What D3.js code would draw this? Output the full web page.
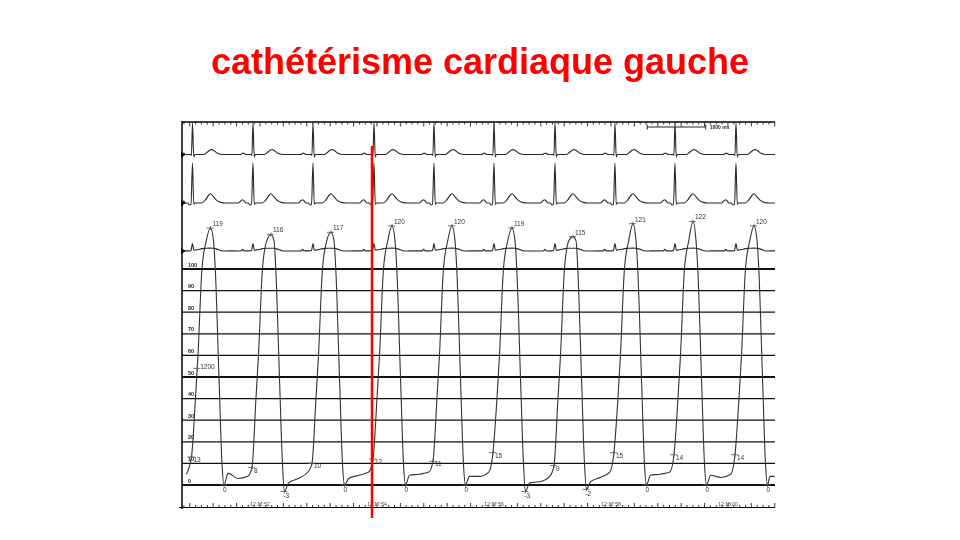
<!DOCTYPE html>
<html>
<head>
<meta charset="utf-8">
<script src="https://cdn.jsdelivr.net/npm/d3@7"></script>
<style>
  body { margin: 0; background: #fff; }
  svg { display: block; will-change: transform; }
</style>
</head>
<body>
<svg id="chart" width="960" height="540"></svg>
<script>
// ---------------- DATA ----------------
const title = "cathétérisme cardiaque gauche";

// time axis (seconds after 12:17:00)
const timeDomain = [50.667, 60.804];
const timeLabelSeconds = [52, 54, 56, 58, 60];
const timeLabels = ["12:17:52", "12:17:54", "12:17:56", "12:17:58", "12:18:00"];

// pressure scale ticks (mmHg)
const pressureTicks = [0, 10, 20, 30, 40, 50, 60, 70, 80, 90, 100];
const pressureTickLabels = ["0", "10", "20", "30", "40", "50", "60", "70", "80", "90", "100"];

// R-wave times of the 10 beats (s)
const rTimes = [50.846, 51.880, 52.906, 53.949, 54.974, 56.000, 57.043, 58.068, 59.094, 60.137];

// per-beat LV pressure values (mmHg)
const peakP = [119, 116, 117, 120, 120, 119, 115, 121, 122, 120];
const minP  = [0, -3, 0, 0, 0, -3, -2, 0, 0, 0];
const edpP  = [13, 8, 10, 12, 11, 15, 9, 15, 14, 14];

// diastolic filling between a beat's minimum and the next end-diastolic point (mmHg)
const diastoleFrac = [0.15, 0.5, 0.85];
const diastoleP = [
  [5.5, 3, 4], [1, 3, 6], [3, 4.5, 6], [4.5, 5, 6], [4, 4, 6],
  [1, 1.5, 4], [1.5, 3.5, 6], [4.5, 5, 6], [4.5, 3.5, 5]
];
const pressureStart = [50.74, 5];
const tailT = [60.72, 60.80];
const tailP = [4, 4];

// systolic shape relative to R (s) and pressures (null = beat value: EDP, peak, minimum)
const sysOffsets   = [-0.017, 0.051, 0.094, 0.162, 0.235, 0.308, 0.36, 0.39, 0.453, 0.504, 0.538];
const sysPressures = [null, 40, 60, 100, 113, null, 113, 100, 50, 10, null];
const EDP_I = 0, PEAK_I = 5, MIN_I = 10;

// dP/dt annotation
const dpdtText = "1200";
const dpdtPoint = [50.927, 54];

// ECG templates: [seconds from R, amplitude relative to R]
const lead1Template = [
  [-0.21, 0], [-0.185, 0.03], [-0.165, 0.045], [-0.145, 0.03], [-0.12, 0],
  [-0.03, 0], [-0.018, -0.03], [0, 1.0], [0.022, -0.08], [0.04, 0],
  [0.2, 0], [0.25, 0.07], [0.3, 0.14], [0.33, 0.155], [0.37, 0.12], [0.42, 0.05], [0.48, 0.01], [0.53, 0]
];
const lead2Template = [
  [-0.25, 0], [-0.21, 0.05], [-0.18, 0.08], [-0.15, 0.05], [-0.12, 0],
  [-0.08, 0], [-0.05, -0.05], [-0.025, -0.04], [0, 1.0], [0.022, -0.03], [0.04, 0],
  [0.16, 0], [0.22, 0.08], [0.28, 0.2], [0.31, 0.23], [0.35, 0.17], [0.42, 0.06], [0.5, 0.01], [0.56, 0]
];
const lead3Template = [
  [-0.2, 0], [-0.175, 0.22], [-0.15, 0],
  [-0.025, 0], [0, 1.0], [0.025, 0]
];
const lead3PressureGain = 0.0034;

// cursor and scale bar
const cursorTime = 53.915;
const scaleBarStart = 58.62;
const scaleBarLength = 1.0;
const scaleBarText = "1000 ms";

// ---------------- DRAWING ----------------
const svg = d3.select("#chart");
const FONT = "'Liberation Sans', Arial, Helvetica, sans-serif";
const x = d3.scaleLinear().domain(timeDomain).range([182, 775]);
const yP = d3.scaleLinear().domain([0, 100]).range([485, 269]);
const y1 = d3.scaleLinear().domain([0, 1]).range([154.5, 123]);
const y2 = d3.scaleLinear().domain([0, 1]).range([203, 163]);
const y3 = d3.scaleLinear().domain([0, 1]).range([251, 244]);
const [xL, xR] = x.range();

// title
svg.append("text")
  .attr("x", 480).attr("y", 74)
  .attr("text-anchor", "middle")
  .attr("font-family", FONT).attr("font-weight", "bold").attr("font-size", 36)
  .attr("fill", "#ff0000")
  .text(title);

svg.append("defs").append("clipPath").attr("id", "plotClip")
  .append("rect").attr("x", xL).attr("y", 115).attr("width", xR - xL).attr("height", 400);

// horizontal pressure grid
const grid = svg.append("g");
grid.selectAll("line").data(pressureTicks).join("line")
  .attr("x1", xL).attr("x2", xR)
  .attr("y1", d => yP(d)).attr("y2", d => yP(d))
  .attr("stroke", "#111")
  .attr("stroke-width", d => d % 50 === 0 ? 2 : 1.3);
grid.selectAll("text").data(pressureTicks).join("text")
  .attr("x", 188).attr("y", d => yP(d) - 2.5)
  .attr("font-family", FONT).attr("font-weight", "bold").attr("font-size", 5.5)
  .attr("fill", "#222")
  .text((d, i) => pressureTickLabels[i]);

// frame: left axis, top ruler, bottom ruler
svg.append("line").attr("x1", xL).attr("x2", xL).attr("y1", 121).attr("y2", 509)
  .attr("stroke", "#000").attr("stroke-width", 1.5);
svg.append("line").attr("x1", xL).attr("x2", xR).attr("y1", 122).attr("y2", 122)
  .attr("stroke", "#000").attr("stroke-width", 1.5);
svg.append("line").attr("x1", 179).attr("x2", xR).attr("y1", 507.5).attr("y2", 507.5)
  .attr("stroke", "#000").attr("stroke-width", 1.2);

const tickTimes = d3.range(Math.ceil(timeDomain[0] * 10), Math.floor(timeDomain[1] * 10) + 1).map(i => i / 10);
const isMajor = t => Math.round(t * 10) % 4 === 0;
svg.append("g").selectAll("line").data(tickTimes).join("line")
  .attr("x1", d => x(d)).attr("x2", d => x(d))
  .attr("y1", 122).attr("y2", d => isMajor(d) ? 126.5 : 124.5)
  .attr("stroke", "#222").attr("stroke-width", 0.9);
svg.append("g").selectAll("line").data(tickTimes).join("line")
  .attr("x1", d => x(d)).attr("x2", d => x(d))
  .attr("y1", 507.5).attr("y2", d => isMajor(d) ? 503 : 505)
  .attr("stroke", "#222").attr("stroke-width", 0.9);
svg.append("g").selectAll("text").data(timeLabelSeconds).join("text")
  .attr("x", d => x(d)).attr("y", 505.5)
  .attr("text-anchor", "middle")
  .attr("font-family", FONT).attr("font-size", 5)
  .attr("fill", "#444")
  .text((d, i) => timeLabels[i]);

// channel markers (triangles)
[y1(0), y2(0), y3(0)].forEach(yy => {
  svg.append("path")
    .attr("d", `M${xL - 1},${yy - 3}L${xL + 4},${yy}L${xL - 1},${yy + 3}Z`)
    .attr("fill", "#000");
});

// build pressure series
const pressurePts = [pressureStart.slice()];
rTimes.forEach((r, i) => {
  sysOffsets.forEach((o, j) => {
    let p = sysPressures[j];
    if (j === EDP_I) p = edpP[i];
    else if (j === PEAK_I) p = peakP[i];
    else if (j === MIN_I) p = minP[i];
    pressurePts.push([r + o, p]);
  });
  const tMin = r + sysOffsets[MIN_I];
  if (i < rTimes.length - 1) {
    const tNext = rTimes[i + 1] + sysOffsets[EDP_I];
    diastoleFrac.forEach((f, k) => pressurePts.push([tMin + f * (tNext - tMin), diastoleP[i][k]]));
  } else {
    tailT.forEach((t, k) => pressurePts.push([t, tailP[k]]));
  }
});

function ecgPoints(template) {
  const pts = [[timeDomain[0], 0]];
  rTimes.forEach(r => template.forEach(([dt, v]) => {
    const t = r + dt;
    if (t > timeDomain[0] && t < timeDomain[1]) pts.push([t, v]);
  }));
  pts.push([timeDomain[1], 0]);
  return pts;
}
function valueAt(pts, t) {
  const i = d3.bisector(d => d[0]).left(pts, t);
  if (i <= 0) return pts[0][1];
  if (i >= pts.length) return pts[pts.length - 1][1];
  const a = pts[i - 1], b = pts[i];
  return a[1] + (b[1] - a[1]) * (t - a[0]) / (b[0] - a[0]);
}

const lead1 = ecgPoints(lead1Template);
const lead2 = ecgPoints(lead2Template);
const lead3Ecg = ecgPoints(lead3Template);
const lead3Times = Array.from(new Set(lead3Ecg.map(d => d[0]).concat(pressurePts.map(d => d[0]))))
  .filter(t => t >= timeDomain[0] && t <= timeDomain[1]).sort((a, b) => a - b);
const lead3 = lead3Times.map(t => [t, valueAt(lead3Ecg, t) + lead3PressureGain * valueAt(pressurePts, t)]);

const plot = svg.append("g").attr("clip-path", "url(#plotClip)");
function drawTrace(pts, yScale, color, w) {
  plot.append("path")
    .attr("d", d3.line().x(d => x(d[0])).y(d => yScale(d[1])).curve(d3.curveMonotoneX)(pts))
    .attr("fill", "none").attr("stroke", color).attr("stroke-width", w)
    .attr("stroke-linejoin", "round");
}
drawTrace(lead1, y1, "#2a2a2a", 1.1);
drawTrace(lead2, y2, "#2a2a2a", 1.1);
drawTrace(lead3, y3, "#2a2a2a", 1.1);
drawTrace(pressurePts, yP, "#333", 1.1);

// annotations
const ann = svg.append("g").attr("font-family", FONT).attr("font-size", 6.5).attr("fill", "#333");
function marker(t, p) {
  const cx = x(t), cy = yP(p);
  ann.append("path")
    .attr("d", `M${cx - 4},${cy}H${cx + 3}M${cx},${cy - 2}V${cy + 2}`)
    .attr("stroke", "#555").attr("stroke-width", 0.8).attr("fill", "none");
  return [cx, cy];
}
rTimes.forEach((r, i) => {
  let [cx, cy] = marker(r + sysOffsets[PEAK_I], peakP[i]);
  ann.append("text").attr("x", cx + 2).attr("y", cy - 2).text(peakP[i]);
  [cx, cy] = marker(r + sysOffsets[MIN_I], minP[i]);
  ann.append("text").attr("x", cx - 1).attr("y", cy + 7).text(minP[i]);
  [cx, cy] = marker(r + sysOffsets[EDP_I], edpP[i]);
  ann.append("text").attr("x", cx + 2).attr("y", cy + 5).text(edpP[i]);
});
{
  const [cx, cy] = marker(dpdtPoint[0], dpdtPoint[1]);
  ann.append("text").attr("x", cx + 3).attr("y", cy + 1).text(dpdtText);
}

// scale bar
const sb0 = x(scaleBarStart), sb1 = x(scaleBarStart + scaleBarLength);
svg.append("path")
  .attr("d", `M${sb0},127H${sb1}M${sb0},124.5V129.5M${sb1},124.5V129.5`)
  .attr("stroke", "#222").attr("stroke-width", 1).attr("fill", "none");
svg.append("text").attr("x", sb1 + 4).attr("y", 129)
  .attr("font-family", FONT).attr("font-weight", "bold").attr("font-size", 5)
  .attr("fill", "#222").text(scaleBarText);

// cursor
svg.append("line")
  .attr("x1", x(cursorTime)).attr("x2", x(cursorTime))
  .attr("y1", 146).attr("y2", 518)
  .attr("stroke", "#ff0000").attr("stroke-width", 2.5);
</script>
</body>
</html>
